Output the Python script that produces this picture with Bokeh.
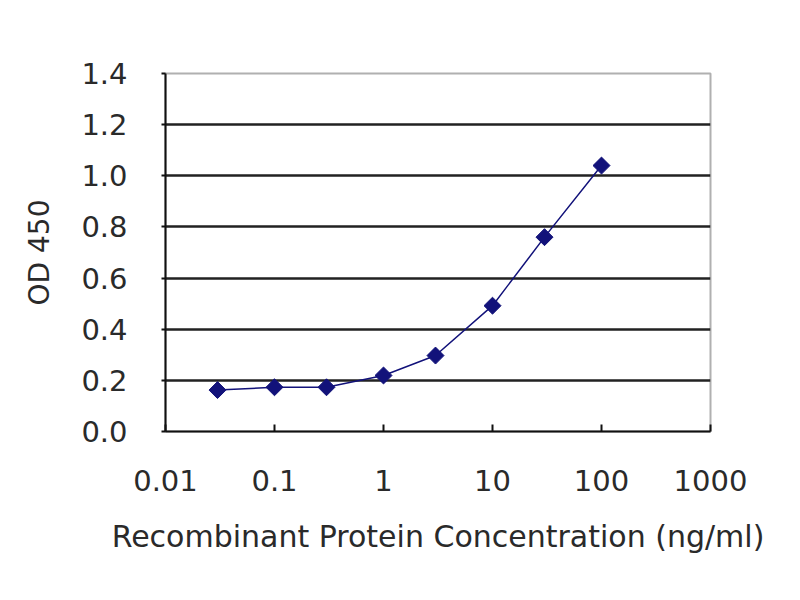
import math
from bokeh.plotting import figure
from bokeh.models import FixedTicker, NumeralTickFormatter
from bokeh.embed import file_html
from bokeh.resources import INLINE

# ELISA standard curve values
conc = [0.03, 0.1, 0.3, 1, 3, 10, 30, 100]
od450 = [0.162, 0.173, 0.173, 0.219, 0.297, 0.492, 0.760, 1.040]

x_ticks = [0.01, 0.1, 1, 10, 100, 1000]
x_tick_labels = ["0.01", "0.1", "1", "10", "100", "1000"]
y_ticks = [0.0, 0.2, 0.4, 0.6, 0.8, 1.0, 1.2, 1.4]
grid_ticks = [0.2, 0.4, 0.6, 0.8, 1.0, 1.2]

font = "DejaVu Sans"
navy = "#12127a"

p = figure(width=784, height=584, x_axis_type="log", x_range=(0.01, 1000), y_range=(0, 1.4),
           output_backend="svg", toolbar_location=None)
p.min_border_left = 165
p.min_border_right = 74
p.min_border_top = 73
p.min_border_bottom = 153
p.background_fill_color = "white"
p.border_fill_color = "white"
p.outline_line_color = "#b0b0b0"
p.outline_line_width = 2

p.xgrid.visible = False
p.ygrid.ticker = FixedTicker(ticks=grid_ticks)
p.ygrid.grid_line_color = "#222222"
p.ygrid.grid_line_width = 2.5

p.xaxis.ticker = FixedTicker(ticks=x_ticks)
p.xaxis.major_label_overrides = {t: l for t, l in zip(x_ticks, x_tick_labels)}
p.yaxis.ticker = FixedTicker(ticks=y_ticks)
p.yaxis.formatter = NumeralTickFormatter(format="0.0")

for ax in (p.xaxis, p.yaxis):
	ax.axis_line_color = "#111111"
	ax.axis_line_width = 2
	ax.major_tick_line_color = "#111111"
	ax.major_tick_line_width = 2
	ax.minor_tick_line_color = None
	ax.major_label_text_font = font
	ax.major_label_text_font_size = "29px"
	ax.major_label_text_color = "#2a2a2a"
	ax.axis_label_text_font = font
	ax.axis_label_text_font_style = "normal"
	ax.axis_label_text_color = "#2a2a2a"

p.xaxis.major_tick_in = 7
p.xaxis.major_tick_out = 0
p.xaxis.major_label_standoff = 38
p.xaxis.axis_label = "Recombinant Protein Concentration (ng/ml)"
p.xaxis.axis_label_text_font_size = "30px"
p.xaxis.axis_label_standoff = 25

p.yaxis.major_tick_in = 0
p.yaxis.major_tick_out = 4
p.yaxis.major_label_standoff = 34
p.yaxis.axis_label = "OD 450"
p.yaxis.axis_label_text_font_size = "28px"
p.yaxis.axis_label_standoff = 22

p.line(conc, od450, line_color=navy, line_width=1.5)
p.scatter(conc, od450, marker="square", size=12, angle=math.pi / 4, fill_color=navy, line_color=navy)

open("out.html", "w").write(file_html(p, INLINE))
